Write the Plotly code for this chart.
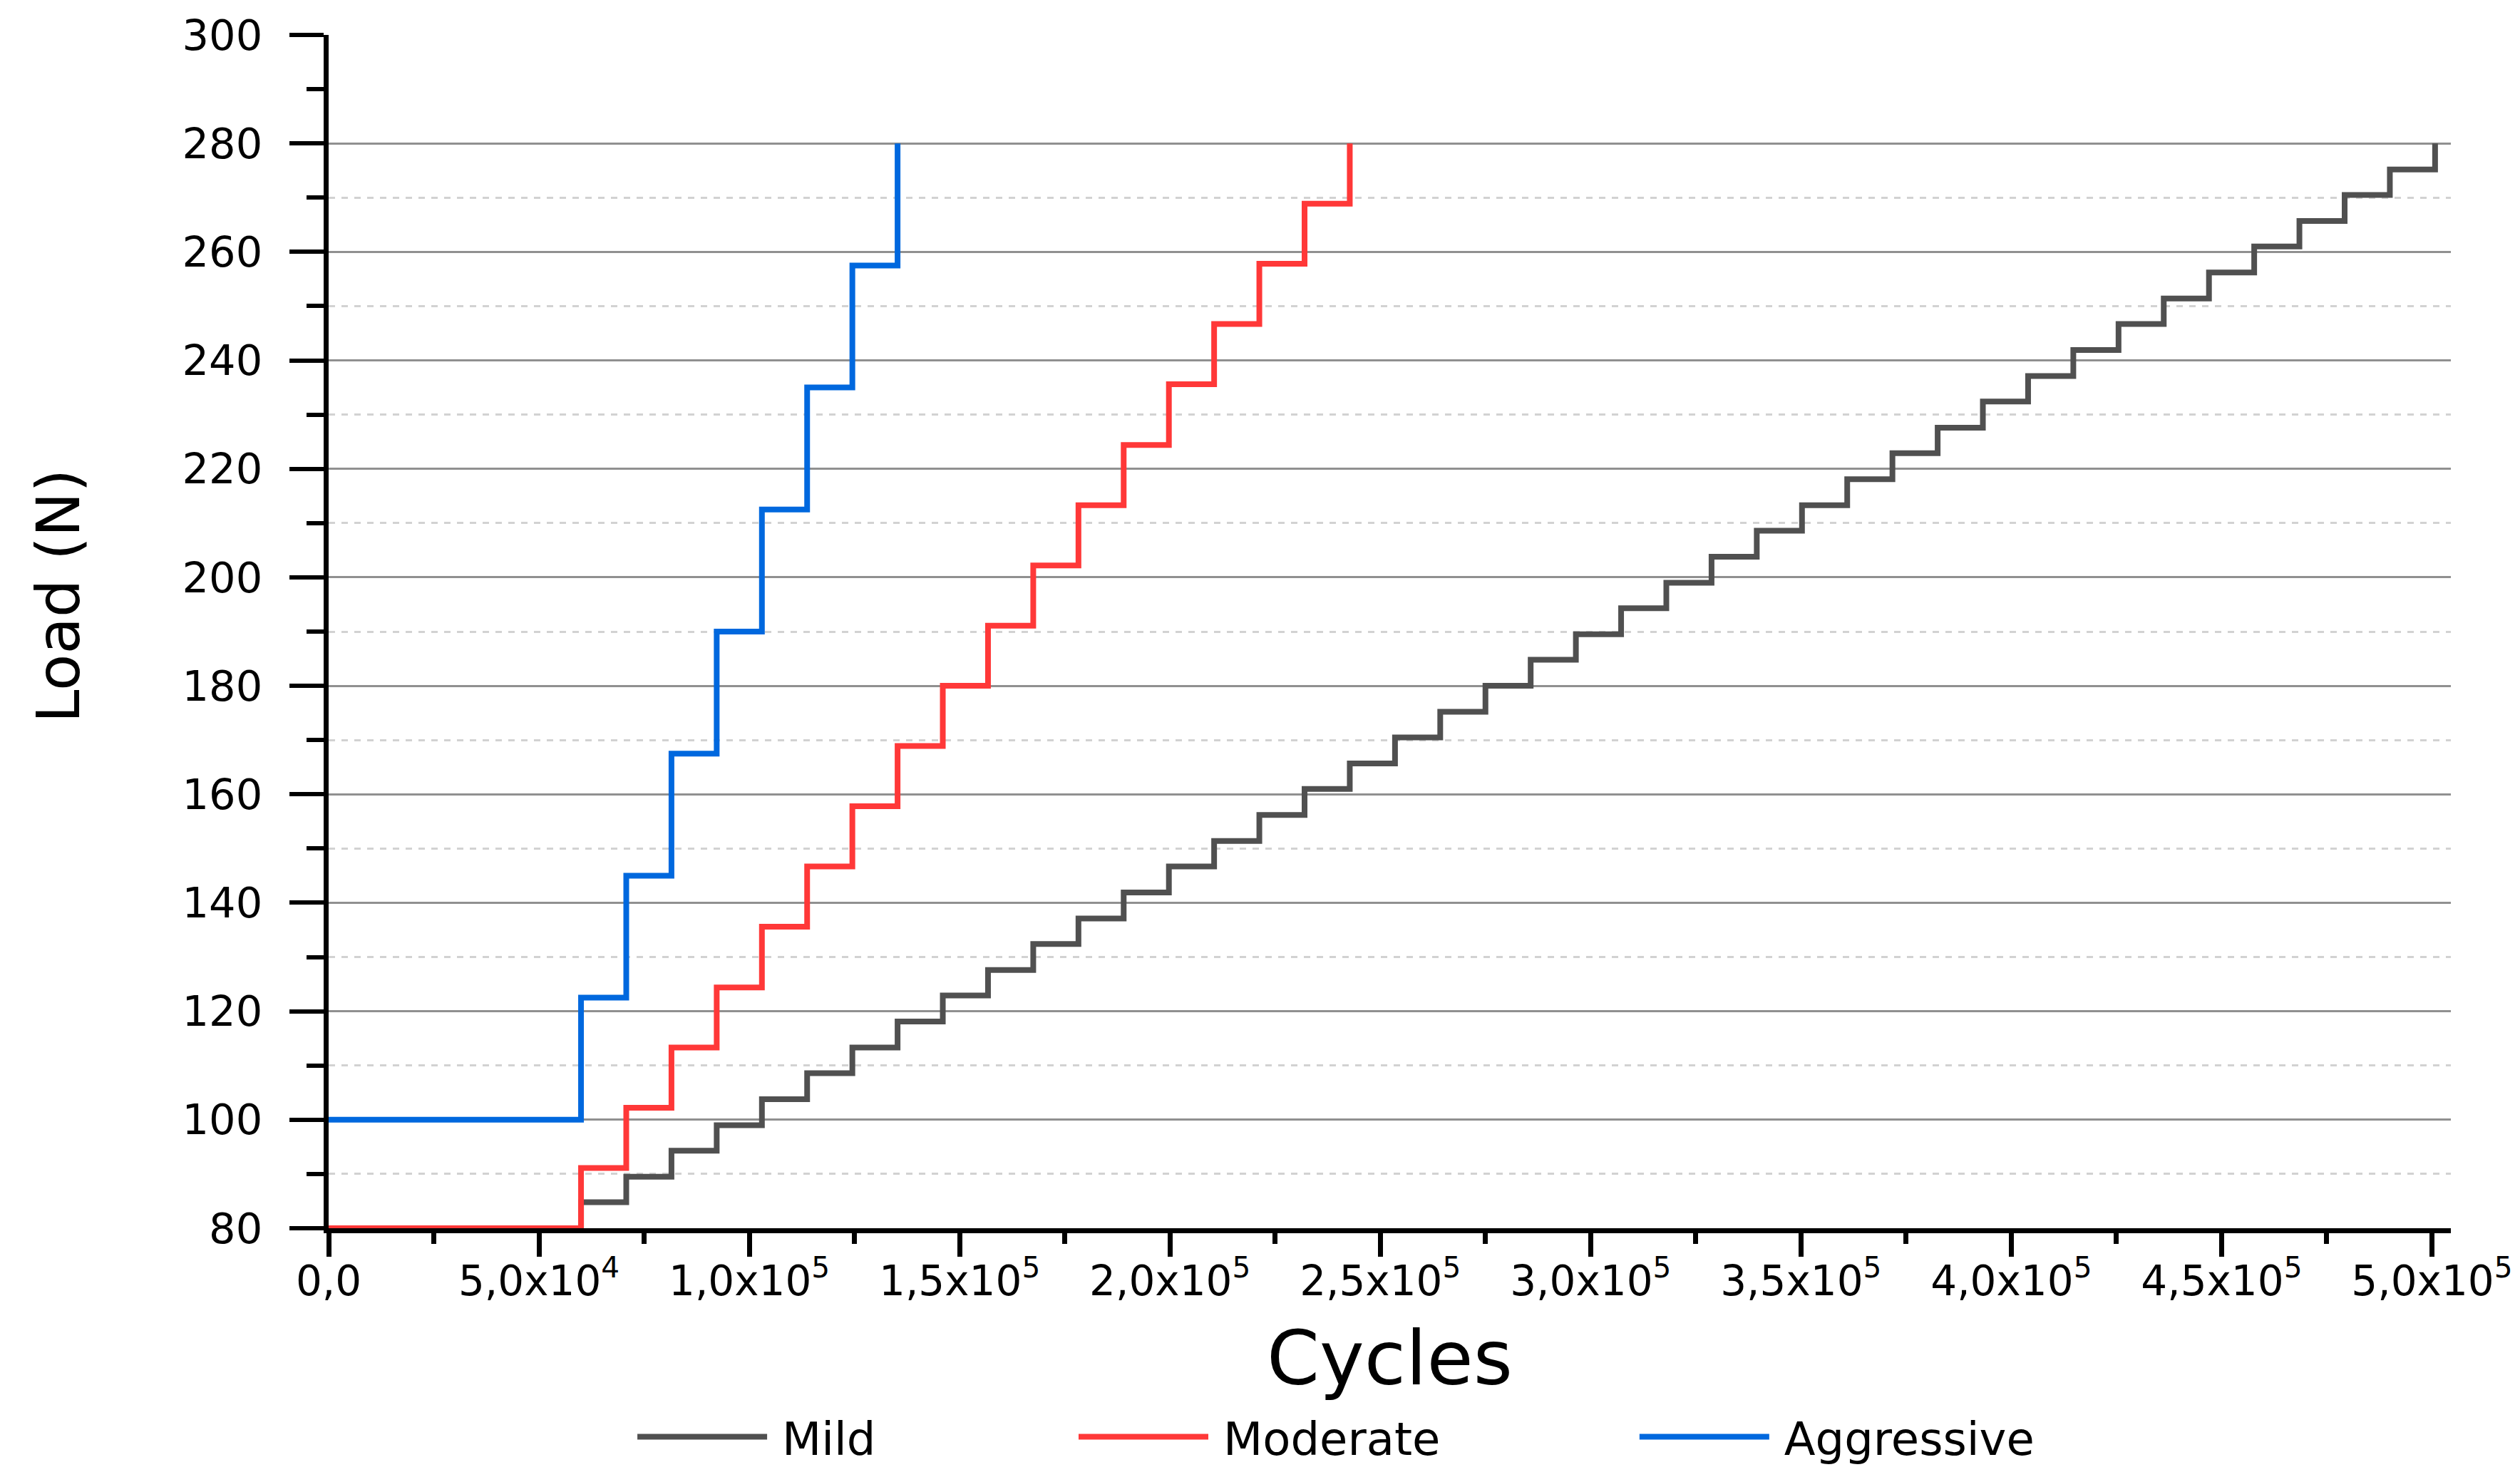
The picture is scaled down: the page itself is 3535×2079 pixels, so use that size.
import plotly.graph_objects as go

# ---- data ----
mild_cycles = [0, 60000, 70750, 81500, 92250, 103000, 113750, 124500, 135250, 146000, 156750,
               167500, 178250, 189000, 199750, 210500, 221250, 232000, 242750, 253500, 264250,
               275000, 285750, 296500, 307250, 318000, 328750, 339500, 350250, 361000, 371750,
               382500, 393250, 404000, 414750, 425500, 436250, 447000, 457750, 468500, 479250,
               490000, 500750]
mild_loads = [80, 84.8, 89.5, 94.3, 99.0, 103.8, 108.6, 113.3, 118.1, 122.9, 127.6,
              132.4, 137.1, 141.9, 146.7, 151.4, 156.2, 161.0, 165.7, 170.5, 175.2,
              180.0, 184.8, 189.5, 194.3, 199.0, 203.8, 208.6, 213.3, 218.1, 222.9,
              227.6, 232.4, 237.1, 241.9, 246.7, 251.4, 256.2, 261.0, 265.7, 270.5,
              275.2, 280.0]

moderate_cycles = [0, 60000, 70750, 81500, 92250, 103000, 113750, 124500, 135250, 146000,
                   156750, 167500, 178250, 189000, 199750, 210500, 221250, 232000, 242750]
moderate_loads = [80, 91.1, 102.2, 113.3, 124.4, 135.6, 146.7, 157.8, 168.9, 180.0,
                  191.1, 202.2, 213.3, 224.4, 235.6, 246.7, 257.8, 268.9, 280.0]

aggressive_cycles = [0, 60000, 70750, 81500, 92250, 103000, 113750, 124500, 135250]
aggressive_loads = [100, 122.5, 145, 167.5, 190, 212.5, 235, 257.5, 280]

series_names = ["Mild", "Moderate", "Aggressive"]
series_colors = ["#505050", "#FF3838", "#0068DE"]
legend_ids = ["legend", "legend2", "legend3"]
legend_x = [0.1438, 0.3517, 0.616]

x_tick_vals = [0, 50000, 100000, 150000, 200000, 250000, 300000, 350000, 400000, 450000, 500000]
x_tick_text = ["0,0", "5,0x10<sup>4</sup>", "1,0x10<sup>5</sup>", "1,5x10<sup>5</sup>",
               "2,0x10<sup>5</sup>", "2,5x10<sup>5</sup>", "3,0x10<sup>5</sup>",
               "3,5x10<sup>5</sup>", "4,0x10<sup>5</sup>", "4,5x10<sup>5</sup>",
               "5,0x10<sup>5</sup>"]
y_tick_vals = [80, 100, 120, 140, 160, 180, 200, 220, 240, 260, 280, 300]
y_major_grid = [100, 120, 140, 160, 180, 200, 220, 240, 260, 280]
y_minor_grid = [90, 110, 130, 150, 170, 190, 210, 230, 250, 270]

x_title = "Cycles"
y_title = "Load (N)"

FONT = "DejaVu Sans"
GAP = "\u2005"  # small space between legend line sample and its label

fig = go.Figure()
for name, xs, ys, col, lg in zip(series_names,
                                 [mild_cycles, moderate_cycles, aggressive_cycles],
                                 [mild_loads, moderate_loads, aggressive_loads],
                                 series_colors, legend_ids):
    fig.add_trace(go.Scatter(x=xs, y=ys, mode="lines", name=GAP + name, legend=lg,
                             line=dict(color=col, width=8, shape="hv")))

legend_common = dict(orientation="h", xanchor="left", y=-0.175, yanchor="middle",
                     font=dict(family=FONT, size=64, color="black"), itemwidth=182,
                     bgcolor="rgba(0,0,0,0)", borderwidth=0)

fig.update_layout(
    width=3535, height=2079,
    paper_bgcolor="white", plot_bgcolor="white",
    margin=dict(l=453, r=105, t=41, b=364, autoexpand=False),
    font=dict(family=FONT, color="black", size=56),
    showlegend=True,
    legend=dict(x=legend_x[0], **legend_common),
    legend2=dict(x=legend_x[1], **legend_common),
    legend3=dict(x=legend_x[2], **legend_common),
    xaxis=dict(
        range=[0, 504500], showgrid=False, zeroline=False,
        showline=True, linecolor="black", linewidth=7,
        tickmode="array", tickvals=x_tick_vals, ticktext=x_tick_text,
        ticks="outside", ticklen=33, tickwidth=7, tickcolor="black",
        tickfont=dict(family=FONT, size=58), ticklabelstandoff=-16,
        minor=dict(tickmode="linear", tick0=0, dtick=25000, ticks="outside",
                   ticklen=15, tickwidth=7, tickcolor="black", showgrid=False),
        layer="below traces",
    ),
    yaxis=dict(
        range=[80, 300], showgrid=False, zeroline=False,
        showline=True, linecolor="black", linewidth=7,
        tickmode="array", tickvals=y_tick_vals,
        ticks="outside", ticklen=48, tickwidth=6, tickcolor="black",
        tickfont=dict(family=FONT, size=59), ticklabelstandoff=26,
        minor=dict(tickmode="linear", tick0=80, dtick=10, ticks="outside",
                   ticklen=24, tickwidth=6, tickcolor="black", showgrid=False),
        layer="below traces",
    ),
    yaxis2=dict(
        overlaying="y", range=[80, 300], showline=False, zeroline=False,
        showticklabels=False, ticks="",
        tickmode="array", tickvals=y_major_grid,
        showgrid=True, gridcolor="#909090", gridwidth=3,
        minor=dict(tickmode="array", tickvals=y_minor_grid, showgrid=True,
                   gridcolor="#d2d2d2", gridwidth=3, griddash="dash", ticks=""),
    ),
    annotations=[
        dict(text=x_title, xref="paper", yref="paper", x=0.500, y=-0.1093,
             xanchor="center", yanchor="middle", showarrow=False,
             font=dict(family=FONT, size=106, color="black")),
        dict(text=y_title, xref="paper", yref="paper", x=-0.1275, y=0.530,
             xanchor="center", yanchor="middle", textangle=-90, showarrow=False,
             font=dict(family=FONT, size=84, color="black")),
    ],
)
fig.add_trace(go.Scatter(x=[None], y=[None], yaxis="y2", showlegend=False,
                         hoverinfo="skip", mode="lines"))

fig.write_html("out.html")
